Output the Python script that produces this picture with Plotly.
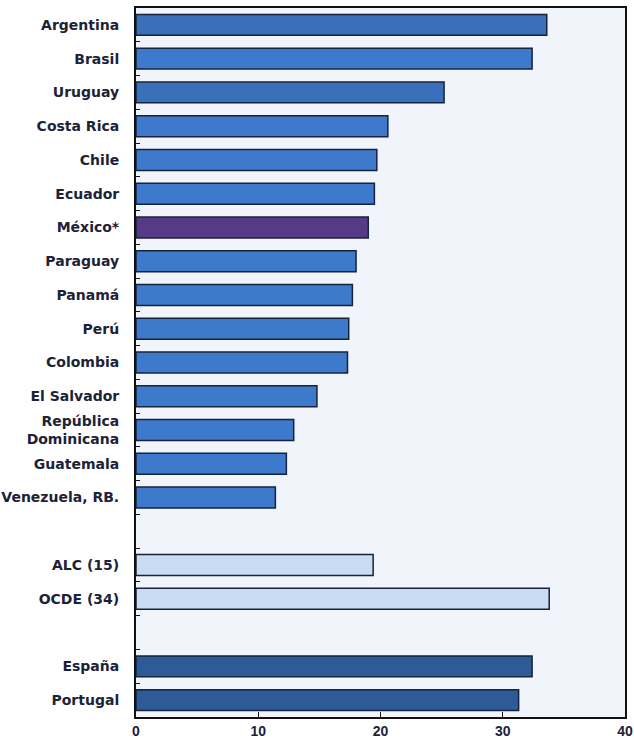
import plotly.graph_objects as go

categories = ["Argentina", "Brasil", "Uruguay", "Costa Rica", "Chile", "Ecuador",
              "México*", "Paraguay", "Panamá", "Perú", "Colombia", "El Salvador",
              "República<br>Dominicana", "Guatemala", "Venezuela, RB.", " ",
              "ALC (15)", "OCDE (34)", "  ", "España", "Portugal"]
values = [33.6, 32.4, 25.2, 20.6, 19.7, 19.5, 19.0, 18.0, 17.7, 17.4, 17.3, 14.8,
          12.9, 12.3, 11.4, None, 19.4, 33.8, None, 32.4, 31.3]
groups = ["lac"] * 15 + ["gap", "avg", "avg", "gap", "ibe", "ibe"]
groups[6] = "mex"

color_map = {"lac": "#3d7acb", "mex": "#563a86", "avg": "#c9dcf1", "ibe": "#2c5b97", "gap": "#ffffff"}
colors = [color_map[g] for g in groups]
colors[0] = "#3a6fba"
colors[2] = "#3a6fba"

fig = go.Figure()
fig.add_trace(go.Bar(
    y=categories, x=values, orientation="h",
    marker=dict(color=colors, line=dict(color="#16233a", width=1.5)),
    width=0.62,
))

fig.update_layout(
    width=634, height=744,
    margin=dict(l=136, r=9, t=8, b=27),
    paper_bgcolor="white",
    plot_bgcolor="#f1f5fb",
    showlegend=False,
    font=dict(family="DejaVu Sans, Liberation Sans, sans-serif", size=13, color="#1c2238"),
)
fig.update_yaxes(
    type="category", categoryorder="array", categoryarray=categories,
    autorange="reversed", automargin=False,
    showline=True, linecolor="#111111", linewidth=2, mirror=True,
    ticks="inside", ticklen=4, tickcolor="#111111", tickson="boundaries",
    showgrid=False,
    tickfont=dict(family="DejaVu Sans", size=14, weight="bold", color="#1c2238"),
    ticklabelstandoff=12,
)
fig.update_xaxes(
    range=[0, 40], tickvals=[0, 10, 20, 30, 40],
    showline=True, linecolor="#111111", linewidth=2, mirror=True,
    ticks="inside", ticklen=5, tickcolor="#111111",
    showgrid=False, zeroline=False, automargin=False,
    tickfont=dict(family="Liberation Sans", size=14, weight="bold", color="#1c2238"),
)

fig.write_html("out.html")
